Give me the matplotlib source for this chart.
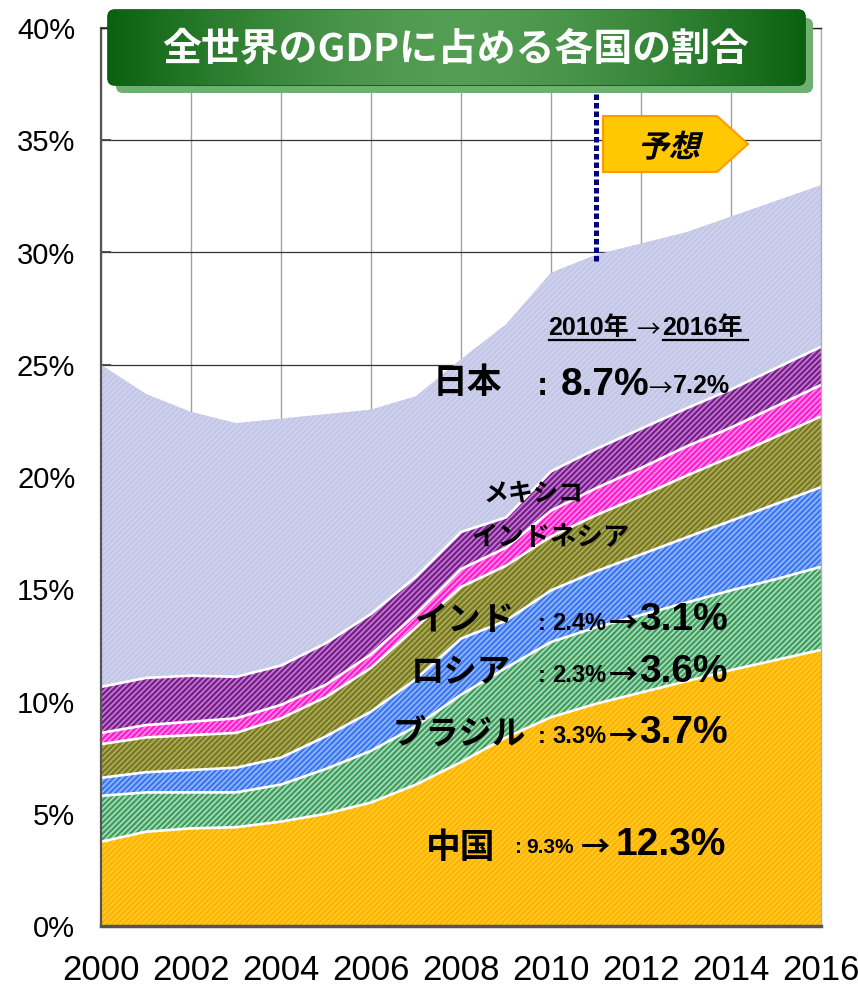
import numpy as np
import matplotlib
matplotlib.use('Agg')
import matplotlib.pyplot as plt
import matplotlib.transforms as mtransforms
from matplotlib.patches import FancyBboxPatch, Polygon, PathPatch
from matplotlib.textpath import TextPath
from matplotlib.font_manager import FontProperties
from matplotlib.ticker import FuncFormatter

# 各国の世界GDPシェア（%）、下から積み上げ順
years = list(range(2000, 2017))
china = [3.75, 4.2, 4.35, 4.4, 4.65, 5.0, 5.5, 6.3, 7.3, 8.4, 9.3, 9.9, 10.4, 10.9, 11.4, 11.85, 12.3]
brazil = [2.05, 1.75, 1.6, 1.55, 1.65, 2.0, 2.3, 2.6, 3.0, 3.1, 3.35, 3.4, 3.45, 3.5, 3.55, 3.6, 3.7]
russia = [0.8, 0.9, 1.0, 1.1, 1.2, 1.45, 1.75, 2.1, 2.5, 2.1, 2.3, 2.5, 2.7, 2.9, 3.1, 3.35, 3.55]
india = [1.5, 1.55, 1.55, 1.55, 1.75, 1.75, 1.95, 2.3, 2.3, 2.45, 2.4, 2.5, 2.6, 2.75, 2.85, 3.0, 3.15]
indonesia = [0.5, 0.55, 0.6, 0.65, 0.6, 0.55, 0.6, 0.6, 0.8, 0.8, 1.15, 1.2, 1.25, 1.3, 1.3, 1.35, 1.4]
mexico = [2.05, 2.1, 2.05, 1.85, 1.75, 1.85, 1.8, 1.65, 1.65, 1.35, 1.75, 1.75, 1.75, 1.7, 1.7, 1.7, 1.7]
japan = [14.35, 12.65, 11.75, 11.3, 11.0, 10.2, 9.1, 8.05, 7.7, 8.6, 8.85, 8.65, 8.25, 7.85, 7.7, 7.45, 7.2]

forecast_year = 2011

series = [china, brazil, russia, india, indonesia, mexico, japan]
face_colors = ['#FFB400', '#3F9F60', '#3C78F0', '#7A7A1E', '#FF1ECF', '#7B1E8C', '#C4C6E8']
stripe_colors = ['#FFCC30', '#B5E0C2', '#9CBCFF', '#B0B068', '#FF96E6', '#C286D4', '#D2D3EC']

JP = ['Noto Sans CJK JP']
LAT = ['Liberation Sans', 'Noto Sans CJK JP']

plt.rcParams['hatch.linewidth'] = 1.1

W, H = 858, 988
fig = plt.figure(figsize=(W / 100, H / 100), dpi=100)
ax = fig.add_axes([101 / W, 1 - 926 / H, 720 / W, 898 / H])

x = np.array(years)
data = np.array(series)
cum = np.cumsum(data, axis=0)
for i in range(data.shape[0]):
    lower = cum[i - 1] if i > 0 else np.zeros(len(x))
    ax.fill_between(x, lower, cum[i], facecolor=face_colors[i], edgecolor=stripe_colors[i],
                    hatch='//////', linewidth=0, zorder=1)
for i in range(data.shape[0] - 1):
    ax.plot(x, cum[i], color='white', lw=1.9, zorder=2, solid_joinstyle='round')

# 予想の区切り線
top_at_2011 = cum[-1][years.index(forecast_year)]
ax.plot([forecast_year, forecast_year], [top_at_2011 - 0.3, 37.3], color='#000080', lw=3.6,
        linestyle=(0, (1.1, 0.6)), dash_capstyle='butt', zorder=3, clip_on=False)

ax.set_xlim(2000, 2016)
ax.set_ylim(0, 40)
ax.set_xticks(range(2000, 2017, 2))
ax.set_yticks(range(0, 41, 5))
ax.yaxis.set_major_formatter(FuncFormatter(lambda v, p: '%d%%' % v))
ax.set_axisbelow(True)
ax.grid(axis='y', color='#333333', lw=0.9)
ax.grid(axis='x', color='#A0A0A0', lw=1.0)
ax.tick_params(axis='y', direction='in', length=7, width=1.3, color='#444444', pad=18.5,
               labelsize=21)
ax.tick_params(axis='x', direction='in', length=7, width=1.3, color='#444444', pad=20,
               labelsize=25)
for lab in ax.get_yticklabels():
    lab.set_family(['Liberation Sans'])
for lab in ax.get_xticklabels():
    lab.set_family(['Liberation Sans'])
ax.spines['left'].set_color('#555555')
ax.spines['left'].set_linewidth(1.6)
ax.spines['bottom'].set_color('#555555')
ax.spines['bottom'].set_linewidth(2.5)
ax.spines['top'].set_color('#222222')
ax.spines['top'].set_linewidth(1.0)
ax.spines['right'].set_color('#B0B0B0')
ax.spines['right'].set_linewidth(1.0)

# 注記用のピクセル座標レイヤー
ov = fig.add_axes([0, 0, 1, 1], zorder=5)
ov.set_xlim(0, W)
ov.set_ylim(H, 0)
ov.axis('off')
ov.patch.set_alpha(0)

# タイトルボックス
shadow = FancyBboxPatch((116, 18), 697, 75, boxstyle='round,pad=0,rounding_size=7',
                        facecolor='#6FAF6F', edgecolor='none')
ov.add_patch(shadow)
box = FancyBboxPatch((108, 10), 697, 75, boxstyle='round,pad=0,rounding_size=7',
                     facecolor='none', edgecolor='#0A4F0A', lw=1.2)
ov.add_patch(box)
t = np.linspace(0, 1, 300)
k = 1 - np.abs(2 * t - 1) ** 1.6
dark = np.array([0.04, 0.38, 0.06])
light = np.array([0.33, 0.62, 0.33])
grad = dark[None, :] + (light - dark)[None, :] * k[:, None]
im = ov.imshow(grad[None, :, :], extent=(108, 805, 85, 10), aspect='auto', zorder=1)
im.set_clip_path(box)
ov.text(456, 61, '全世界のGDPに占める各国の割合', fontsize=28, family=JP, weight='bold',
        color='white', ha='center', va='baseline', zorder=3)

# 予想 矢印
arrow = Polygon([(603, 116), (717, 116), (748, 144), (717, 172), (603, 172)],
                closed=True, facecolor='#FFC800', edgecolor='#FF9A00', lw=1.5, zorder=2)
ov.add_patch(arrow)
fp = FontProperties(family='Noto Sans CJK JP', weight='bold')
tp = TextPath((0, 0), '予想', size=31, prop=fp)
bb = tp.get_extents()
tr = (mtransforms.Affine2D().translate(-(bb.x0 + bb.x1) / 2, 0).skew_deg(14, 0)
      .scale(1, -1).translate(669, 157) + ov.transData)
ov.add_patch(PathPatch(tp, transform=tr, facecolor='black', edgecolor='none', zorder=3))


def put(px, py, s, size, family=JP, weight='bold'):
    ov.text(px, py, s, fontsize=size, family=family, weight=weight, color='black',
            ha='left', va='baseline', zorder=4)


# 2010年→2016年
put(548, 335, '2010年', 18, LAT)
put(636, 337, '→', 17, JP, 'normal')
put(662, 335, '2016年', 18, LAT)
ov.plot([549, 635], [340, 340], color='black', lw=1.6)
ov.plot([663, 748], [340, 340], color='black', lw=1.6)

# 日本
put(433, 393, '日本', 25)
put(537, 395, ':', 24, LAT)
put(561, 395, '8.7%', 28, LAT)
put(648, 396, '→', 17, JP, 'normal')
put(673, 393, '7.2%', 18, LAT)

put(484, 500, 'メキシコ', 18)
put(471, 545, 'インドネシア', 19)

# インド・ロシア・ブラジル・中国
rows = [
    ('インド', 415, 630, 630, '2.4%', '3.1%'),
    ('ロシア', 411, 682, 682, '2.3%', '3.6%'),
    ('ブラジル', 393, 744, 743, '3.3%', '3.7%'),
]
for name, nx, ny, by, small, big in rows:
    put(nx, ny, name, 24)
    put(538, by, ':', 17, LAT)
    put(552, by, small, 17, LAT)
    put(609, by + 3, '→', 21, JP, 'bold')
    put(639, by, big, 28, LAT)

put(426, 858, '中国', 25)
put(515, 853, ':', 15, LAT)
put(526, 853, '9.3%', 15, LAT)
put(581, 857, '→', 21, JP, 'bold')
put(616, 855, '12.3%', 28, LAT)

fig.savefig('out.png', dpi=100)
